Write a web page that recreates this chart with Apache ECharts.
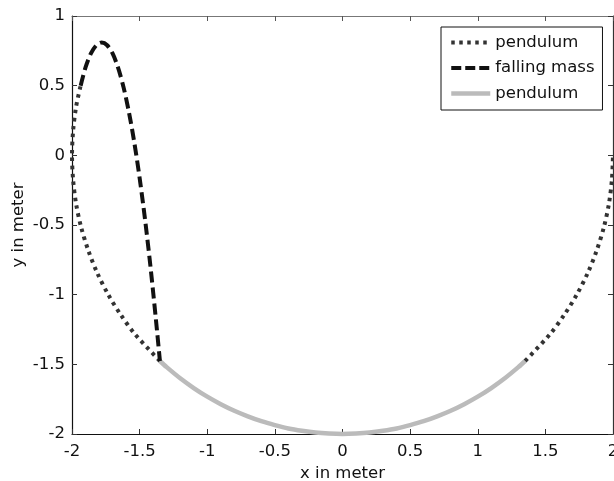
<!DOCTYPE html>
<html><head><meta charset="utf-8">
<script src="https://cdn.jsdelivr.net/npm/echarts@6/dist/echarts.min.js"></script>
<style>html,body{margin:0;padding:0;background:#fff}#c{width:614px;height:481px}</style>
</head><body><div id="c"></div>
<script>
// pendulum (dotted) - left part and right part
const pendulumLeftX = [-1.35,-1.532,-1.638,-1.732,-1.813,-1.879,-1.932,-1.970,-1.992,-2.0,-1.992,-1.970,-1.936];
const pendulumLeftY = [-1.476,-1.286,-1.147,-1.0,-0.845,-0.684,-0.518,-0.347,-0.174,0.0,0.174,0.347,0.501];
const pendulumRightX = [1.35,1.532,1.638,1.732,1.813,1.879,1.932,1.970,1.992,2.0];
const pendulumRightY = [-1.476,-1.286,-1.147,-1.0,-0.845,-0.684,-0.518,-0.347,-0.174,0.0];
// falling mass (dashed)
const fallX = [-1.936,-1.90,-1.86,-1.82,-1.78,-1.74,-1.70,-1.66,-1.62,-1.58,-1.54,-1.50,-1.46,-1.42,-1.38,-1.35];
const fallY = [0.50,0.631,0.731,0.790,0.81,0.790,0.731,0.631,0.493,0.314,0.096,-0.162,-0.460,-0.797,-1.174,-1.476];
// pendulum (grey solid)
const swingX = [-1.35,-1.3,-1.2,-1.1,-1.0,-0.9,-0.8,-0.7,-0.6,-0.5,-0.4,-0.3,-0.2,-0.1,0,0.1,0.2,0.3,0.4,0.5,0.6,0.7,0.8,0.9,1.0,1.1,1.2,1.3,1.35];
const swingY = [-1.476,-1.520,-1.6,-1.670,-1.732,-1.786,-1.833,-1.873,-1.908,-1.936,-1.960,-1.977,-1.990,-1.997,-2.0,-1.997,-1.990,-1.977,-1.960,-1.936,-1.908,-1.873,-1.833,-1.786,-1.732,-1.670,-1.6,-1.520,-1.476];
const xTicks = [-2,-1.5,-1,-0.5,0,0.5,1,1.5,2];
const yTicks = [-2,-1.5,-1,-0.5,0,0.5,1];

const zip = (a,b) => a.map((v,i)=>[v,b[i]]);
const pendulumData = zip(pendulumLeftX,pendulumLeftY).concat([[null,null]], zip(pendulumRightX,pendulumRightY));

const font = '"DejaVu Sans", sans-serif';
const fs = 16.5;
const chart = echarts.init(document.getElementById('c'));
chart.setOption({
  animation:false,
  backgroundColor:'#fff',
  grid:{left:72,right:1,top:16,bottom:47,containLabel:false,outerBoundsMode:'none'},
  legend:{
    orient:'vertical', left:441, top:27,
    padding:[7,8,8,8], itemGap:8.5, itemWidth:39, itemHeight:16,
    borderColor:'#111', borderWidth:1, backgroundColor:'#fff', borderRadius:0,
    itemStyle:{opacity:0},
    textStyle:{fontFamily:font,fontSize:fs,color:'#111'},
    data:[
      {name:'pendulum', lineStyle:{width:4,type:[3.5,4.5],color:'#333',cap:'butt'}},
      {name:'falling mass', lineStyle:{width:4,type:[10,4],color:'#111',cap:'butt'}},
      {name:'pendulum ', lineStyle:{width:4.5,type:'solid',color:'#bbbbbb'}}
    ]
  },
  xAxis:[{
    type:'value', min:-2, max:2, interval:0.5,
    axisLine:{onZero:false,lineStyle:{color:'#111',width:1.2}},
    axisTick:{inside:true,length:5,lineStyle:{color:'#333'}},
    axisLabel:{margin:9,fontFamily:font,fontSize:fs,color:'#111',formatter:v=>String(v)},
    splitLine:{show:false},
    name:'x in meter', nameLocation:'middle', nameGap:31, nameMoveOverlap:false,
    nameTextStyle:{fontFamily:font,fontSize:fs,color:'#111'}
  },{
    type:'value', min:-2, max:2, interval:0.5, position:'top',
    axisLine:{onZero:false,lineStyle:{color:'#777',width:1.2}},
    axisTick:{inside:true,length:5,lineStyle:{color:'#555'}},
    axisLabel:{show:false}, splitLine:{show:false}
  }],
  yAxis:[{
    type:'value', min:-2, max:1, interval:0.5,
    axisLine:{onZero:false,lineStyle:{color:'#111',width:1.2}},
    axisTick:{inside:true,length:5,lineStyle:{color:'#333'}},
    axisLabel:{margin:7,fontFamily:font,fontSize:fs,color:'#111',formatter:v=>String(v)},
    splitLine:{show:false},
    name:'y in meter', nameLocation:'middle', nameGap:45, nameRotate:90, nameMoveOverlap:false,
    nameTextStyle:{fontFamily:font,fontSize:fs,color:'#111'}
  },{
    type:'value', min:-2, max:1, interval:0.5, position:'right',
    axisLine:{onZero:false,lineStyle:{color:'#333',width:1.2}},
    axisTick:{inside:true,length:5,lineStyle:{color:'#333'}},
    axisLabel:{show:false}, splitLine:{show:false}
  }],
  series:[
    {name:'pendulum', type:'line', data:pendulumData, smooth:0.3, symbol:'none', connectNulls:false, clip:false,
     lineStyle:{color:'#333',width:4,type:[3.5,4.5],cap:'butt'}, itemStyle:{color:'#333'}, z:3},
    {name:'falling mass', type:'line', data:zip(fallX,fallY), smooth:0.3, symbol:'none', clip:false,
     lineStyle:{color:'#111',width:4,type:[11,5],cap:'butt'}, itemStyle:{color:'#111'}, z:4},
    {name:'pendulum ', type:'line', data:zip(swingX,swingY), smooth:0.3, symbol:'none', clip:false,
     lineStyle:{color:'#bbbbbb',width:4.5}, itemStyle:{color:'#bbbbbb'}, z:2}
  ]
});
</script></body></html>
